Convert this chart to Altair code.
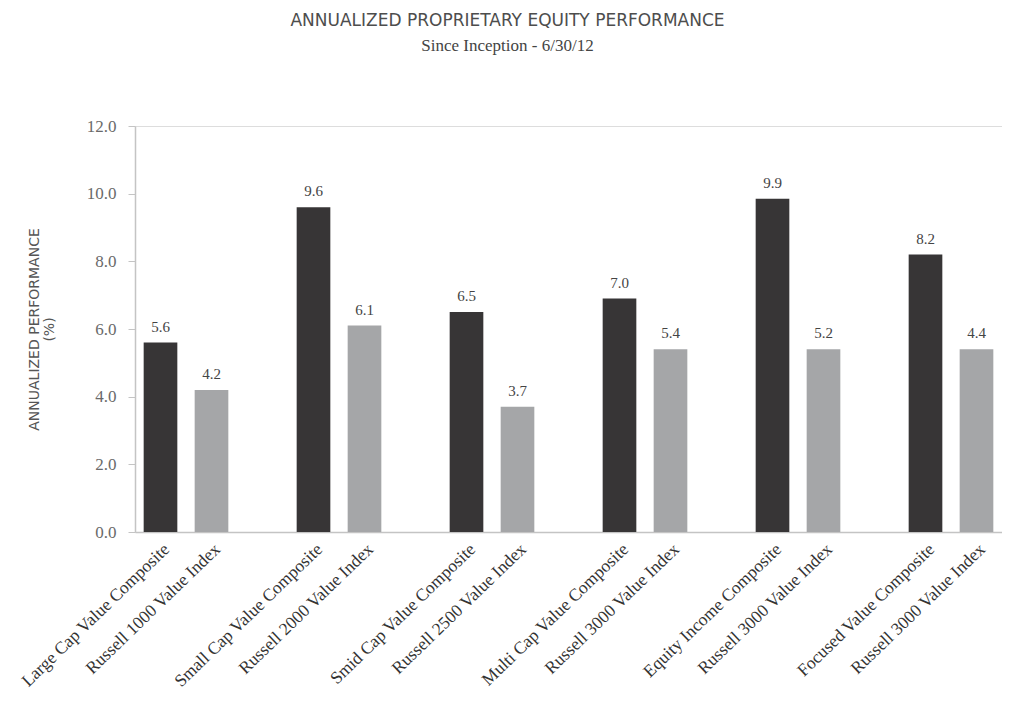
import altair as alt
import pandas as pd

# ---- data ----
bar_labels = [
    "Large Cap Value Composite", "Russell 1000 Value Index",
    "Small Cap Value Composite", "Russell 2000 Value Index",
    "Smid Cap Value Composite", "Russell 2500 Value Index",
    "Multi Cap Value Composite", "Russell 3000 Value Index",
    "Equity Income Composite", "Russell 3000 Value Index",
    "Focused Value Composite", "Russell 3000 Value Index",
]
series = ["Composite", "Index"] * 6
bar_values = [5.6, 4.2, 9.6, 6.1, 6.5, 3.7, 6.9, 5.4, 9.85, 5.4, 8.2, 5.4]
value_text = ["5.6", "4.2", "9.6", "6.1", "6.5", "3.7", "7.0", "5.4", "9.9", "5.2", "8.2", "4.4"]
y_ticks = [0, 2, 4, 6, 8, 10, 12]

# each pair of bars is followed by an empty spacer slot
slots = [i + i // 2 for i in range(len(bar_labels))]
n_slots = slots[-1] + 1
slot_labels = [""] * n_slots
for s, lab in zip(slots, bar_labels):
    slot_labels[s] = lab

df = pd.DataFrame({
    "slot": slots,
    "label": bar_labels,
    "series": series,
    "value": bar_values,
    "text": value_text,
})

label_expr = "[" + ",".join("'" + l + "'" for l in slot_labels) + "][datum.value]"

x = alt.X(
    "slot:O",
    scale=alt.Scale(domain=list(range(n_slots)), paddingInner=0.34, paddingOuter=0.17),
    axis=alt.Axis(
        title=None, ticks=False, labelAngle=-44, labelPadding=8,
        labelFont="Liberation Serif", labelFontSize=17.5, labelColor="#333333",
        labelLimit=400, labelOverlap=False, labelExpr=label_expr,
        domainColor="#c4c4c4", domainWidth=1.5,
    ),
)

y = alt.Y(
    "value:Q",
    scale=alt.Scale(domain=[0, 12], nice=False),
    axis=alt.Axis(
        values=y_ticks, format=".1f", grid=False,
        title=["ANNUALIZED PERFORMANCE", "(%)"],
        titleFont="DejaVu Sans", titleFontSize=14, titleFontWeight="normal",
        titleColor="#555555", titlePadding=30, titleLineHeight=15,
        labelFont="Liberation Serif", labelFontSize=17, labelColor="#6a6a6a",
        labelPadding=12, tickSize=7, tickColor="#c4c4c4",
        domainColor="#c4c4c4", domainWidth=1.5,
    ),
)

bars = alt.Chart(df).mark_bar().encode(
    x=x,
    y=y,
    color=alt.Color(
        "series:N",
        scale=alt.Scale(domain=["Composite", "Index"], range=["#373536", "#a5a6a8"]),
        legend=None,
    ),
)

labels = alt.Chart(df).mark_text(
    baseline="alphabetic", dy=-11, font="Liberation Serif", fontSize=15, color="#444444"
).encode(x=x, y=y, text="text:N")

chart = (
    alt.layer(bars, labels)
    .properties(
        width=867,
        height=406,
        autosize=alt.AutoSizeParams(type="none"),
        padding={"left": 127, "top": 118, "right": 0, "bottom": 166},
        title=alt.TitleParams(
            text="ANNUALIZED PROPRIETARY EQUITY PERFORMANCE",
            subtitle="Since Inception - 6/30/12",
            font="DejaVu Sans", fontSize=17, fontWeight="normal", color="#4d4d4d",
            subtitleFont="Liberation Serif", subtitleFontSize=17, subtitleColor="#444444",
            subtitlePadding=8, anchor="middle", dx=-61, offset=62,
        ),
    )
    .configure_view(stroke=None)
    .configure(background="white")
)

chart.save("out.html", embed_options={"renderer": "svg", "actions": False})
